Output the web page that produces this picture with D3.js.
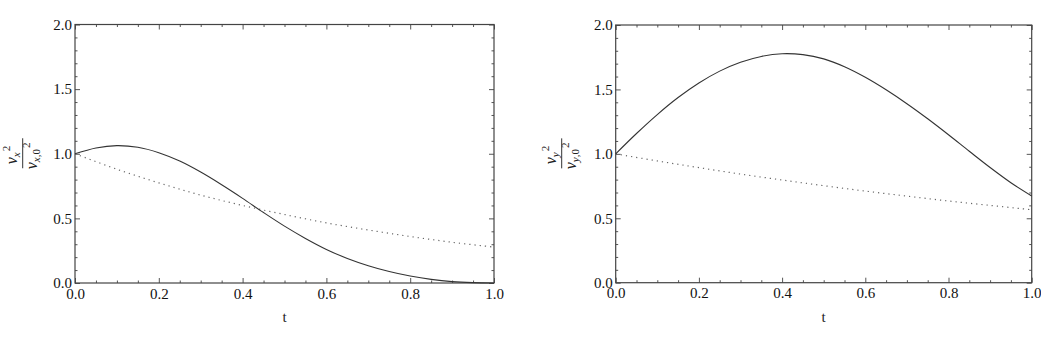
<!DOCTYPE html>
<html>
<head>
<meta charset="utf-8">
<script src="https://cdn.jsdelivr.net/npm/d3@7"></script>
<style>
  html, body { margin: 0; padding: 0; background: #fff; }
  svg { display: block; }
  .axis path { display: none; }
  .axis line { stroke: #555; stroke-width: 1; }
  .frame { fill: none; stroke: #444; stroke-width: 1.2; }
</style>
</head>
<body>
<div id="chart"></div>
<script>
// ---- data ----
var tSolid = [0, 0.05, 0.1, 0.15, 0.2, 0.25, 0.3, 0.35, 0.4, 0.45, 0.5,
              0.55, 0.6, 0.65, 0.7, 0.75, 0.8, 0.85, 0.9, 0.95, 1.0];
var vx2Solid = [1.0, 1.045, 1.063, 1.05, 1.008, 0.943, 0.858, 0.76, 0.655, 0.545, 0.44,
                0.345, 0.26, 0.19, 0.134, 0.089, 0.054, 0.028, 0.011, 0.003, 0.0];
var vy2Solid = [1.0, 1.158, 1.305, 1.437, 1.55, 1.642, 1.711, 1.756, 1.777, 1.77, 1.737,
                1.676, 1.594, 1.497, 1.389, 1.272, 1.148, 1.02, 0.894, 0.776, 0.673];

var tDotted = [0, 0.1, 0.2, 0.3, 0.4, 0.5, 0.6, 0.7, 0.8, 0.9, 1.0];
var vx2Dotted = [1.0, 0.88, 0.775, 0.68, 0.6, 0.53, 0.465, 0.41, 0.36, 0.315, 0.278];
var vy2Dotted = [1.0, 0.945, 0.893, 0.843, 0.797, 0.753, 0.711, 0.672, 0.634, 0.6, 0.566];

var xMajor = [0, 0.2, 0.4, 0.6, 0.8, 1.0];
var xMinor = [0.05, 0.1, 0.15, 0.25, 0.3, 0.35, 0.45, 0.5, 0.55, 0.65, 0.7, 0.75, 0.85, 0.9, 0.95];
var yMajor = [0, 0.5, 1.0, 1.5, 2.0];
var yMinor = [0.1, 0.2, 0.3, 0.4, 0.6, 0.7, 0.8, 0.9, 1.1, 1.2, 1.3, 1.4, 1.6, 1.7, 1.8, 1.9];

var W = 1041, H = 341;
var SERIF = '"Liberation Serif", "Times New Roman", Times, serif';

var svg = d3.select('#chart').append('svg')
    .attr('width', W)
    .attr('height', H);

// two panels, same layout
var panels = [
  {left: 75, right: 494, top: 24.5, bottom: 283, solid: vx2Solid, dotted: vx2Dotted,
   labelX: 22.7, sub: 'x'},
  {left: 615.7, right: 1031.7, top: 25, bottom: 282.7, solid: vy2Solid, dotted: vy2Dotted,
   labelX: 561.7, sub: 'y'}
];

panels.forEach(function(p) {
  var x = d3.scaleLinear().domain([0, 1]).range([p.left, p.right]);
  var y = d3.scaleLinear().domain([0, 2]).range([p.bottom, p.top]);
  var g = svg.append('g');

  function fmt(d) { return d3.format('.1f')(d); }

  // ticks, inward, on all four sides
  function addAxis(axis, tr) {
    var a = g.append('g').attr('class', 'axis')
        .attr('transform', tr)
        .call(axis);
    a.attr('font-family', SERIF).attr('font-size', 15);
    a.selectAll('text').style('font-family', SERIF).style('font-size', '15px')
        .attr('fill', '#111');
    return a;
  }

  var tb = 'translate(0,' + p.bottom + ')',
      tt = 'translate(0,' + p.top + ')',
      tl = 'translate(' + p.left + ',0)',
      trr = 'translate(' + p.right + ',0)';

  addAxis(d3.axisBottom(x).tickValues(xMajor).tickSizeInner(-5).tickSizeOuter(0)
          .tickPadding(5).tickFormat(fmt), tb);
  addAxis(d3.axisBottom(x).tickValues(xMinor).tickSizeInner(-2.5).tickSizeOuter(0).tickFormat(''), tb);
  addAxis(d3.axisTop(x).tickValues(xMajor).tickSizeInner(-5).tickSizeOuter(0).tickFormat(''), tt);
  addAxis(d3.axisTop(x).tickValues(xMinor).tickSizeInner(-2.5).tickSizeOuter(0).tickFormat(''), tt);
  addAxis(d3.axisLeft(y).tickValues(yMajor).tickSizeInner(-5).tickSizeOuter(0)
          .tickPadding(3).tickFormat(fmt), tl);
  addAxis(d3.axisLeft(y).tickValues(yMinor).tickSizeInner(-2.5).tickSizeOuter(0).tickFormat(''), tl);
  addAxis(d3.axisRight(y).tickValues(yMajor).tickSizeInner(-5).tickSizeOuter(0).tickFormat(''), trr);
  addAxis(d3.axisRight(y).tickValues(yMinor).tickSizeInner(-2.5).tickSizeOuter(0).tickFormat(''), trr);

  // frame
  g.append('rect').attr('class', 'frame')
      .attr('x', p.left).attr('y', p.top)
      .attr('width', p.right - p.left).attr('height', p.bottom - p.top);

  // curves
  var line = d3.line()
      .x(function(d) { return x(d[0]); })
      .y(function(d) { return y(d[1]); })
      .curve(d3.curveCatmullRom.alpha(0.5));

  g.append('path')
      .datum(tDotted.map(function(t, i) { return [t, p.dotted[i]]; }))
      .attr('d', line)
      .attr('fill', 'none')
      .attr('stroke', '#666')
      .attr('stroke-width', 1.2)
      .attr('stroke-dasharray', '1.2,4');

  g.append('path')
      .datum(tSolid.map(function(t, i) { return [t, p.solid[i]]; }))
      .attr('d', line)
      .attr('fill', 'none')
      .attr('stroke', '#333')
      .attr('stroke-width', 1.1);

  // x axis title
  g.append('text')
      .attr('x', (p.left + p.right) / 2)
      .attr('y', 322)
      .attr('text-anchor', 'middle')
      .style('font-family', SERIF)
      .style('font-size', '15px')
      .attr('fill', '#222')
      .text('t');

  // y axis title: rotated fraction v_s^2 / v_{s,0}^2
  var cy = (p.top + p.bottom) / 2 - 0.5;
  var lab = g.append('g')
      .attr('transform', 'translate(' + p.labelX + ',' + cy + ') rotate(-90)')
      .style('font-family', SERIF)
      .attr('fill', '#222');

  lab.append('line')
      .attr('x1', -15).attr('x2', 15)
      .attr('y1', 0).attr('y2', 0)
      .attr('stroke', '#333').attr('stroke-width', 1);

  var num = lab.append('text')
      .attr('x', -11).attr('y', -6)
      .style('font-size', '16px');
  num.append('tspan').style('font-style', 'italic').text('v');
  num.append('tspan').style('font-style', 'italic').style('font-size', '11px')
      .attr('dy', 3).text(p.sub);
  num.append('tspan').style('font-size', '11px')
      .attr('dy', -10).attr('dx', 1).text('2');

  var den = lab.append('text')
      .attr('x', -16).attr('y', 14)
      .style('font-size', '16px');
  den.append('tspan').style('font-style', 'italic').text('v');
  den.append('tspan').style('font-size', '11px').style('font-style', 'italic')
      .attr('dy', 3).text(p.sub);
  den.append('tspan').style('font-size', '11px').text(',0');
  den.append('tspan').style('font-size', '11px')
      .attr('dy', -10).attr('dx', 1).text('2');
});
</script>
</body>
</html>
